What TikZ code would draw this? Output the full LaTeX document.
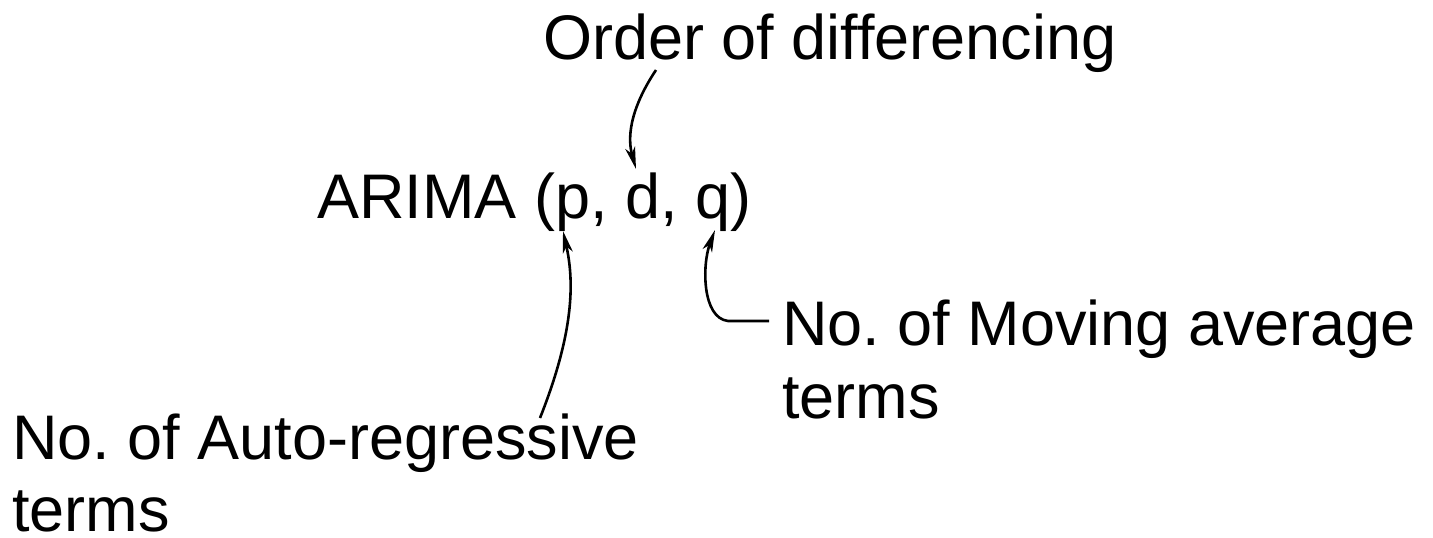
\documentclass[tikz,border=0pt]{standalone}
\usepackage{fontspec}
\setmainfont{Liberation Sans}
\usetikzlibrary{arrows.meta}
\frenchspacing
\begin{document}
\begin{tikzpicture}[x=1pt,y=-1pt,
  lbl/.style={inner sep=0pt, anchor=base west, font=\fontsize{63}{74}\selectfont\frenchspacing},
  conn/.style={line width=2.6pt, -{Stealth[length=22pt,width=10pt,inset=6pt]}}]
\useasboundingbox (0,0) rectangle (1433,538);
\node[lbl] (order) at (543,59) {Order of differencing};
\node[lbl] (arima) at (317,218) {ARIMA (p, d, q)};
\node[lbl] (ma1) at (782,345) {No. of Moving average};
\node[lbl] (ma2) at (782,418) {terms};
\node[lbl] (ar1) at (12,459) {No. of Auto-regressive};
\node[lbl, text depth=0pt] (ar2) at (12,531) {terms};
% connector end points
\coordinate (ostart) at (656,70);
\coordinate (dtip) at (636,169);
\coordinate (arstart) at (540,418);
\coordinate (ptip) at (563,231);
\coordinate (mastart) at (769,321);
\coordinate (qtip) at (715,230);
\draw[conn] (ostart) .. controls (628,112) and (628,140) .. (dtip);
\draw[conn] (arstart) .. controls (575,330) and (574,280) .. (ptip);
\draw[conn] (mastart) -- (728,321) .. controls (702,318) and (702,265) .. (qtip);
\end{tikzpicture}
\end{document}
